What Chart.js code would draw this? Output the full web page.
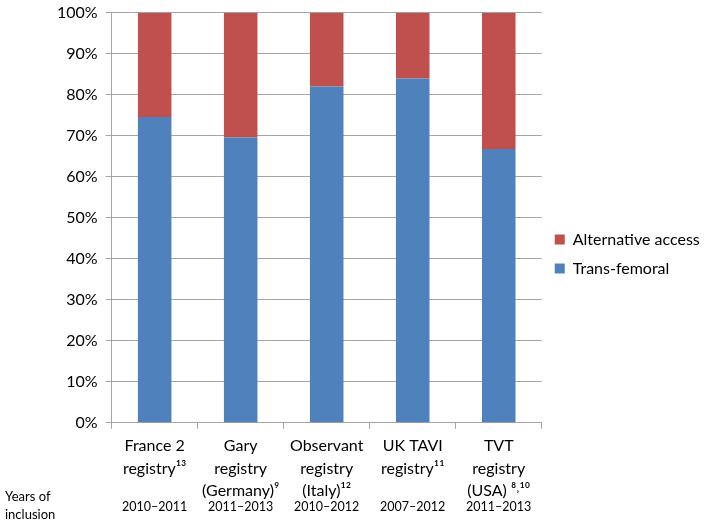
<!DOCTYPE html>
<html>
<head>
<meta charset="utf-8">
<script src="https://cdn.jsdelivr.net/npm/chart.js@4"></script>
<style>
  body { margin: 0; background: #fff; }
  #wrap { width: 714px; height: 524px; }
</style>
</head>
<body>
<div id="wrap"><canvas id="access" width="714" height="524"></canvas></div>
<script>
const registries = [
    ['France 2', 'registry\u00B9\u00B3', ''],
    ['Gary', 'registry', '(Germany)\u2079'],
    ['Observant', 'registry', '(Italy)\u00B9\u00B2'],
    ['UK TAVI', 'registry\u00B9\u00B9', ''],
    ['TVT', 'registry', '(USA) \u2078\u02D2\u00B9\u2070']
];
const years = ['2010\u20132011', '2011\u20132013', '2010\u20132012', '2007\u20132012', '2011\u20132013'];
const transFemoral = [74.6, 69.6, 82, 84, 66.8];
const alternative = [25.4, 30.4, 18, 16, 33.2];

const yearsRow = {
    id: 'yearsRow',
    afterDraw(chart) {
        const c = chart.ctx;
        const x = chart.scales.x;
        c.save();
        c.fillStyle = '#000';
        c.font = '12.5px Lato';
        c.textAlign = 'center';
        c.textBaseline = 'middle';
        years.forEach((y, i) => c.fillText(y, x.getPixelForValue(i), 507));
        c.font = '13px Lato';
        c.textAlign = 'left';
        c.fillText('Years of', 5, 497);
        c.fillText('inclusion', 5, 515);
        c.restore();
    }
};

const ctx = document.getElementById('access');
new Chart(ctx, {
    type: 'bar',
    data: {
        labels: registries,
        datasets: [{
            label: 'Trans-femoral',
            data: transFemoral,
            backgroundColor: '#4F81BD'
        }, {
            label: 'Alternative access',
            data: alternative,
            backgroundColor: '#C0504D'
        }]
    },
    options: {
        responsive: false,
        animation: false,
        layout: {
            padding: { top: 0, left: 49, right: 8, bottom: 16 }
        },
        datasets: {
            bar: { barPercentage: 0.39, categoryPercentage: 1 }
        },
        plugins: {
            tooltip: { enabled: false },
            legend: {
                position: 'right',
                reverse: true,
                labels: {
                    boxWidth: 10,
                    boxHeight: 10,
                    padding: 13,
                    color: '#000',
                    font: { family: 'Lato', size: 16 }
                }
            }
        },
        scales: {
            x: {
                stacked: true,
                grid: { drawOnChartArea: false, drawTicks: true, tickLength: 6, color: '#a6a6a6' },
                border: { color: '#a6a6a6' },
                ticks: { color: '#000', padding: 6, maxRotation: 0, font: { family: 'Lato', size: 16, lineHeight: 1.4 } }
            },
            y: {
                stacked: true,
                min: 0,
                max: 100,
                grid: { color: '#a6a6a6', tickLength: 6 },
                border: { color: '#a6a6a6' },
                ticks: {
                    stepSize: 10,
                    color: '#000',
                    padding: 8,
                    font: { family: 'Lato', size: 16, lineHeight: 0.6 },
                    callback: v => v + '%'
                }
            }
        }
    },
    plugins: [yearsRow]
});
</script>
</body>
</html>
